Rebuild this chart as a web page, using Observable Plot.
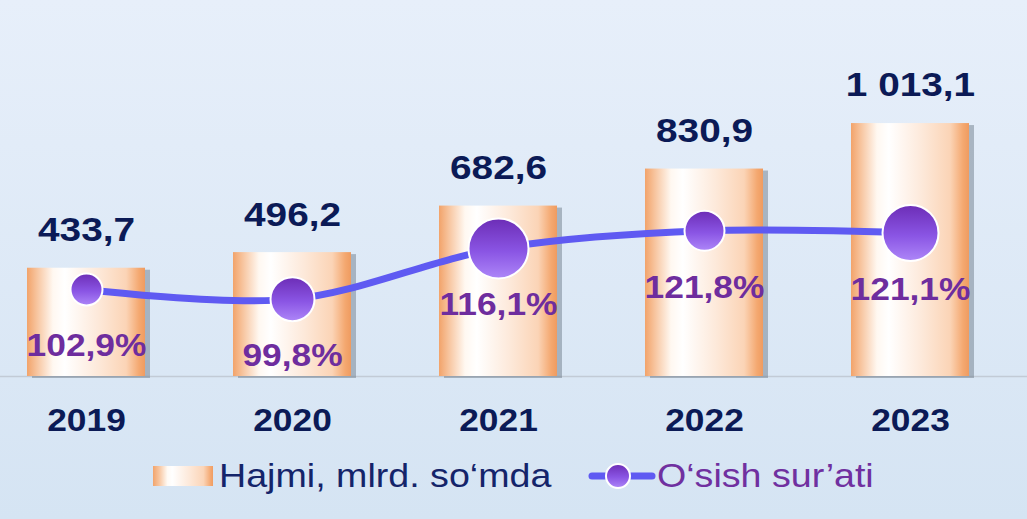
<!DOCTYPE html>
<html>
<head>
<meta charset="utf-8">
<script src="https://cdn.jsdelivr.net/npm/d3@7"></script>
<script src="https://cdn.jsdelivr.net/npm/@observablehq/plot@0.6"></script>
<style>
  html, body { margin: 0; padding: 0; }
  body {
    width: 1027px; height: 519px; overflow: hidden;
    background: linear-gradient(#e7effa, #d5e4f3);
    font-family: "Liberation Sans", Arial, sans-serif;
  }
  #chart { position: relative; width: 1027px; height: 450px; }
  #legend { position: relative; width: 1027px; height: 69px; }
  .lg { position: absolute; }
  .lgtext { font-size: 33px; line-height: 1; transform: scaleX(1.14); transform-origin: left center; white-space: nowrap; }
</style>
</head>
<body>
<div id="chart"></div>
<div id="legend">
  <div class="lg" style="left:153px; top:16px; width:60px; height:20px; background: linear-gradient(90deg, #f2a46c 0%, #f7c49d 10%, #fffaf4 24%, #fff 32%, #fde9da 60%, #fbd5b8 84%, #f4a871 96%, #f09d62 100%);"></div>
  <div class="lg lgtext" style="left:219px; top:9px; color:#14246a;">Hajmi, mlrd. so‘mda</div>
  <svg class="lg" style="left:587px; top:10px;" width="70" height="32">
    <defs>
      <linearGradient id="lgDot" x1="0" y1="0" x2="0" y2="1">
        <stop offset="0" stop-color="#6c2db6"/>
        <stop offset="0.55" stop-color="#8a55e4"/>
        <stop offset="1" stop-color="#ad86f8"/>
      </linearGradient>
    </defs>
    <line x1="5" x2="65" y1="16" y2="16" stroke="#5f5af2" stroke-width="7" stroke-linecap="round"/>
    <circle cx="31" cy="16" r="12" fill="url(#lgDot)" stroke="white" stroke-width="2"/>
  </svg>
  <div class="lg lgtext" style="left:657px; top:9px; color:#7030a0;">O‘sish sur’ati</div>
</div>
<script>
// ---- data ----
const years = ["2019", "2020", "2021", "2022", "2023"];
const volume = [433.7, 496.2, 682.6, 830.9, 1013.1];   // Hajmi, mlrd. so‘mda
const growth = [102.9, 99.8, 116.1, 121.8, 121.1];     // O‘sish sur’ati, %

// ---- styling ----
const dotRadii = [16, 22, 30, 20, 28];
const FONT = "Liberation Sans, Arial, sans-serif";
const NAVY = "#0b1a56";
const PURPLE = "#6e2d9e";

const rows = years.map((year, i) => ({year, volume: volume[i], growth: growth[i], r: dotRadii[i]}));

const fmt = d3.formatLocale({decimal: ",", thousands: " ", grouping: [3]});
const fmtVol = fmt.format(",.1f");
const fmtPct = v => fmt.format(".1f")(v) + "%";

// secondary axis: growth rate (%) mapped into the volume y domain
const rateToY = d3.scaleLinear([100, 120], [312.4, 561.5]);

const plot = Plot.plot({
  width: 1027,
  height: 450,
  marginTop: 0,
  marginBottom: 74,
  marginLeft: 0,
  marginRight: 0,
  style: {background: "transparent", fontFamily: FONT, overflow: "visible"},
  x: {domain: years, range: [0, 997], paddingInner: 0.427, paddingOuter: 0.13, axis: null},
  y: {domain: [0, 1506], axis: null},
  r: {type: "identity"},
  marks: [
    Plot.ruleY([0], {stroke: "#c2cbd6", strokeWidth: 1.5}),
    Plot.barY(rows, {x: "year", y: "volume", fill: "#6f7d8c", fillOpacity: 0.5, dx: 5, dy: 2, ariaLabel: "bar-shadow"}),
    Plot.barY(rows, {x: "year", y: "volume", fill: "url(#barGrad)"}),
    Plot.line(rows, {x: "year", y: d => rateToY(d.growth), curve: "catmull-rom", stroke: "#5f5af2", strokeWidth: 7}),
    Plot.dot(rows, {x: "year", y: d => rateToY(d.growth), r: "r", fill: "url(#dotGrad)", stroke: "white", strokeWidth: 2}),
    Plot.text(rows, {x: "year", y: "volume", text: d => fmtVol(d.volume), dy: -38, lineAnchor: "middle",
      fontSize: 34, fontWeight: "bold", fill: NAVY}),
    Plot.text(rows, {x: "year", y: d => rateToY(d.growth), text: d => fmtPct(d.growth), dy: 57, lineAnchor: "middle",
      fontSize: 31, fontWeight: "bold", fill: PURPLE}),
    Plot.text(rows, {x: "year", y: 0, text: "year", dy: 45, lineAnchor: "middle",
      fontSize: 31, fontWeight: "bold", fill: NAVY})
  ]
});

// gradients and shadow filter
const ns = "http://www.w3.org/2000/svg";
const defs = document.createElementNS(ns, "defs");
defs.innerHTML = `
  <linearGradient id="barGrad" x1="0" y1="0" x2="1" y2="0">
    <stop offset="0" stop-color="#f2a36a"/>
    <stop offset="0.08" stop-color="#f7c39c"/>
    <stop offset="0.22" stop-color="#fff8f1"/>
    <stop offset="0.32" stop-color="#ffffff"/>
    <stop offset="0.6" stop-color="#fde9da"/>
    <stop offset="0.84" stop-color="#fbd4b6"/>
    <stop offset="0.95" stop-color="#f4a870"/>
    <stop offset="1" stop-color="#ef9b60"/>
  </linearGradient>
  <linearGradient id="dotGrad" x1="0" y1="0" x2="0" y2="1">
    <stop offset="0" stop-color="#6c2db6"/>
    <stop offset="0.55" stop-color="#8a55e4"/>
    <stop offset="1" stop-color="#ad86f8"/>
  </linearGradient>
  <filter id="shadowBlur" x="-20%" y="-20%" width="140%" height="140%">
    <feGaussianBlur stdDeviation="3"/>
  </filter>`;
plot.insertBefore(defs, plot.firstChild);
const sh = plot.querySelector('[aria-label="bar-shadow"]');
if (sh) sh.setAttribute("filter", "url(#shadowBlur)");

document.getElementById("chart").appendChild(plot);

// the reference lettering is horizontally widened; stretch glyphs to match
plot.querySelectorAll("text").forEach(t => {
  const len = t.getComputedTextLength();
  if (len > 0) {
    t.setAttribute("textLength", (len * 1.14).toFixed(1));
    t.setAttribute("lengthAdjust", "spacingAndGlyphs");
  }
});
</script>
</body>
</html>
